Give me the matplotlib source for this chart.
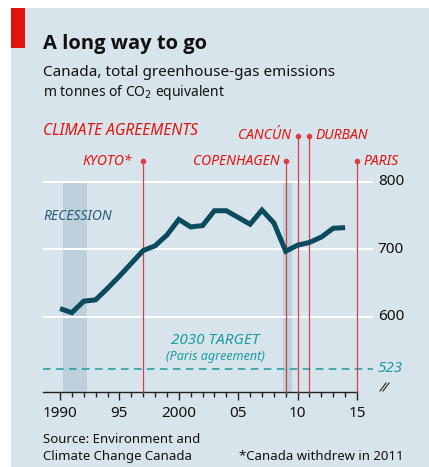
import numpy as np
import matplotlib
matplotlib.use('Agg')
import matplotlib.pyplot as plt
from matplotlib import font_manager
from matplotlib.patches import Rectangle
from matplotlib.lines import Line2D

plt.rcParams['font.family'] = ['Noto Sans', 'DejaVu Sans']

# pick a family that really has a bold face for the title
bold_family = 'DejaVu Sans'
for fam in ['Noto Sans', 'Open Sans', 'Lato', 'Roboto', 'Inter']:
    if any(f.name == fam and f.weight in (700, 'bold') and f.style == 'normal'
           for f in font_manager.fontManager.ttflist):
        bold_family = fam
        break

years = np.arange(1990, 2015)
emissions = [612, 606, 623, 625, 642, 660, 679, 698, 705, 721, 744, 733, 735,
             757, 757, 747, 737, 758, 739, 697, 706, 710, 718, 731, 732]

recessions = [(1990.25, 1992.25), (2008.75, 2009.5)]

agreements = ['KYOTO*', 'COPENHAGEN', 'CANCÚN', 'DURBAN', 'PARIS']
agreement_years = [1997, 2009, 2010, 2011, 2015]
agreement_tops = [830, 830, 868, 868, 830]
label_side = ['left', 'left', 'left', 'right', 'right']

target = 523
yticks = [600, 700, 800]
xticks = [1990, 1995, 2000, 2005, 2010, 2015]
xticklabels = ['1990', '95', '2000', '05', '10', '15']

bg = '#d8e4ec'
red = '#e3120b'
vline_red = '#dd3d45'
line_col = '#0c4b5e'
teal = '#1a9c9c'

W, H = 429, 467
fig = plt.figure(figsize=(W / 100, H / 100), dpi=100)
fig.patches.append(Rectangle((11 / W, 0), 418 / W, 459 / H, transform=fig.transFigure,
                             facecolor=bg, edgecolor='none', zorder=-10))
fig.patches.append(Rectangle((11 / W, (H - 48) / H), 14 / W, 40 / H, transform=fig.transFigure,
                             facecolor=red, edgecolor='none', zorder=-5))

ax = fig.add_axes([43 / W, (H - 391.7) / H, 330 / W, (391.7 - 125) / H])
ax.set_facecolor('none')
x0, x1 = 1990 - 17 / 11.88, 2015 + 16 / 11.88
ax.set_xlim(x0, x1)
ax.set_ylim(600 - 75 / 0.675, 800 + 56.7 / 0.675)

for s in ['top', 'right', 'left']:
    ax.spines[s].set_visible(False)
ax.spines['bottom'].set_bounds(x0, 2015)
ax.spines['bottom'].set_color('#222222')
ax.spines['bottom'].set_linewidth(1.0)

ax.set_xticks(xticks)
ax.set_xticklabels(xticklabels, fontsize=11, color='#111111')
ax.set_xticks(years.tolist() + [2015], minor=True)
ax.tick_params(axis='x', which='major', length=6, width=1.0, color='#222222', pad=4)
ax.tick_params(axis='x', which='minor', length=3.6, width=1.0, color='#222222')
ax.set_yticks([])

# recession shading
for a, b in recessions:
    ax.fill_between([a, b], ax.get_ylim()[0], 798, color='#bdd0db', lw=0, zorder=1)

# gridlines
for v in yticks:
    ax.axhline(v, color='white', lw=1.4, zorder=2)
    ax.text(x1 + 0.4, v, str(v), fontsize=11, va='center', ha='left', color='#111111')

# target line
ax.axhline(target, color=teal, lw=1.1, ls=(0, (5, 3.5)), zorder=2)
ax.text(x1 + 0.4, target, str(target), fontsize=11, style='italic', va='center',
        ha='left', color=teal)
ax.text(2003.05, 564.5, '2030 TARGET', fontsize=11, style='italic', ha='center',
        va='center', color=teal)
ax.text(2003.05, 540.5, '(Paris agreement)', fontsize=9, style='italic', ha='center',
        va='center', color=teal)

# agreements
for name, yr, top, side in zip(agreements, agreement_years, agreement_tops, label_side):
    ax.plot([yr, yr], [ax.get_ylim()[0], top], color=vline_red, lw=0.9, zorder=3,
            clip_on=False)
    ax.plot([yr], [top], 'o', color=vline_red, ms=3, zorder=3, clip_on=False)
    if side == 'left':
        off = -8 if name == 'KYOTO*' else -4.5
        ha = 'right'
    else:
        off = 4.5
        ha = 'left'
    ax.annotate(name, (yr, top), xytext=(off, 0), textcoords='offset points',
                ha=ha, va='center', fontsize=10, style='italic', color=red,
                annotation_clip=False)

ax.text(x0, 868 + 0.5, 'CLIMATE AGREEMENTS', fontsize=11.2, style='italic',
        ha='left', va='baseline', color=red)
ax.text(x0, 749, 'RECESSION', fontsize=10, style='italic', ha='left', va='center',
        color='#255f77')

# emissions line
ax.plot(years, emissions, color=line_col, lw=3.6, zorder=5, solid_capstyle='butt',
        solid_joinstyle='miter')

# axis break mark
for dx in (0, 3):
    fig.add_artist(Line2D([(380 + dx) / W, (386 + dx) / W],
                          [(H - 391) / H, (H - 383) / H], color='#222222', lw=0.8))

# titles
fig.text(43 / W, (H - 49) / H, 'A long way to go', fontsize=14.5, fontweight='bold',
         family=bold_family, ha='left', va='baseline', color='#111111')
fig.text(43 / W, (H - 76) / H, 'Canada, total greenhouse-gas emissions', fontsize=11,
         ha='left', va='baseline', color='#111111')
fig.text(43 / W, (H - 96) / H, r'm tonnes of CO$_2$ equivalent', fontsize=10,
         ha='left', va='baseline', color='#111111')

fig.text(43 / W, (H - 443) / H, 'Source: Environment and', fontsize=9.5,
         ha='left', va='baseline', color='#111111')
fig.text(43 / W, (H - 460) / H, 'Climate Change Canada', fontsize=9.5,
         ha='left', va='baseline', color='#111111')
fig.text(404 / W, (H - 460) / H, '*Canada withdrew in 2011', fontsize=9.5,
         ha='right', va='baseline', color='#111111')

fig.savefig('out.png', dpi=100)
